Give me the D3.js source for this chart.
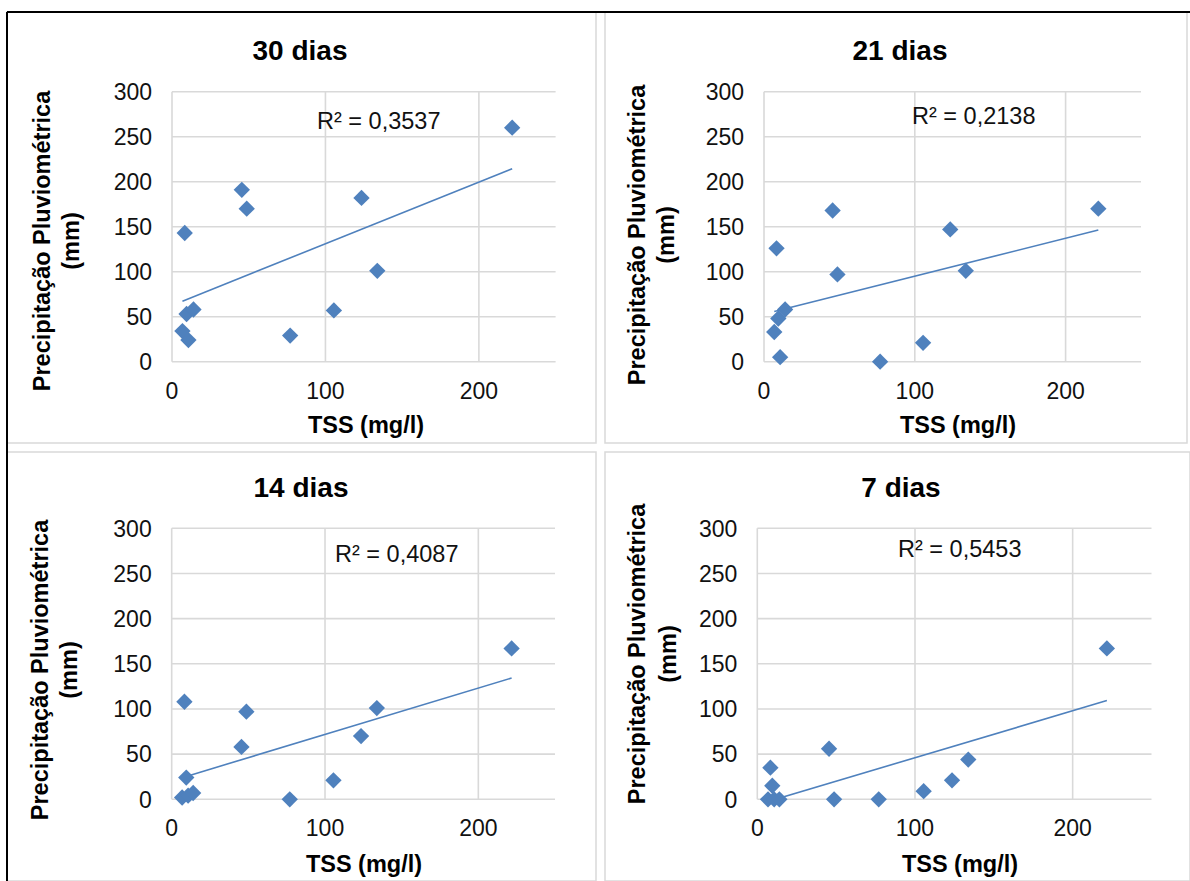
<!DOCTYPE html>
<html>
<head>
<meta charset="utf-8">
<script src="https://cdn.jsdelivr.net/npm/d3@7"></script>
<style>
  html, body { margin: 0; padding: 0; background: #fff; }
  svg { display: block; font-family: "Liberation Sans", Arial, sans-serif; }
</style>
</head>
<body>
<svg></svg>
<script>
// data

var tss = [6.8, 8.3, 9.5, 10.7, 14, 45.5, 48.7, 77, 105.5, 123.5, 133.8, 221.7]

var chuva30 = [34, 143, 53, 24, 58, 191, 170, 29, 57, 182, 101, 260]
var chuva21 = [33, 126, 48, 5, 58, 168, 97, 0, 21, 147, 101, 170]
var chuva14 = [2, 108, 24, 4, 7, 58, 97, 0, 21, 70, 101, 167]
var chuva7 = [0, 35, 15, 0, 0, 56, 0, 0, 9, 21, 44, 167]

var titles = ['30 dias', '21 dias', '14 dias', '7 dias']
var r2Labels = ['R² = 0,3537', 'R² = 0,2138', 'R² = 0,4087', 'R² = 0,5453']
var xTicks = [0, 100, 200]
var yTicks = [0, 50, 100, 150, 200, 250, 300]
var xTitle = 'TSS (mg/l)'
var yTitle = ['Precipitação Pluviométrica', '(mm)']

// -----------------

var w = 1190
var h = 881
var blue = '#4F81BD'
var grid = '#d9d9d9'

var svg = d3.select('svg')
    .attr('width', w)
    .attr('height', h)

var series = [chuva30, chuva21, chuva14, chuva7]

var panels = [
  { box: [7, 12, 596, 443], plot: [172, 555.6, 91.7, 361.7], title: [300, 60], r2: [317, 129], ylab: [42, 71, 241], xlab: [366, 433] },
  { box: [605, 12, 1187, 443], plot: [764, 1141, 91.7, 361.7], title: [900, 60], r2: [912, 124], ylab: [637, 666, 235], xlab: [958, 433] },
  { box: [7, 452, 596, 881], plot: [171.7, 555, 528.3, 799.3], title: [301, 497], r2: [335, 562], ylab: [40, 69, 670], xlab: [364, 872] },
  { box: [605, 452, 1190, 881], plot: [757.3, 1151.5, 528.3, 799.3], title: [901, 497], r2: [898, 557], ylab: [637, 668, 654], xlab: [960, 872] }
]

// least squares fit, like the excel linear trendline
function fit (xs, ys) {
  var mx = d3.mean(xs)
  var my = d3.mean(ys)
  var sxy = d3.sum(xs, function (x, i) { return (x - mx) * (ys[i] - my) })
  var sxx = d3.sum(xs, function (x) { return (x - mx) * (x - mx) })
  var b = sxy / sxx
  return { b: b, a: my - b * mx }
}

panels.forEach(function (p, k) {
  var g = svg.append('g')
  var ys = series[k]

  // panel frame
  g.append('rect')
    .attr('x', p.box[0])
    .attr('y', p.box[1])
    .attr('width', p.box[2] - p.box[0])
    .attr('height', p.box[3] - p.box[1])
    .attr('fill', '#fff')
    .attr('stroke', grid)
    .attr('stroke-width', 1.5)

  var x = d3.scaleLinear().domain([0, 250]).range([p.plot[0], p.plot[1]])
  var y = d3.scaleLinear().domain([0, 300]).range([p.plot[3], p.plot[2]])

  // grid
  g.selectAll('.hg').data(yTicks).enter().append('line')
    .attr('x1', x(0)).attr('x2', x(250))
    .attr('y1', function (d) { return y(d) })
    .attr('y2', function (d) { return y(d) })
    .attr('stroke', grid).attr('stroke-width', 1.6)

  g.selectAll('.vg').data(xTicks).enter().append('line')
    .attr('y1', y(0)).attr('y2', y(300))
    .attr('x1', function (d) { return x(d) })
    .attr('x2', function (d) { return x(d) })
    .attr('stroke', grid).attr('stroke-width', 1.6)

  // tick labels
  g.selectAll('.yt').data(yTicks).enter().append('text')
    .attr('x', x(0) - 20)
    .attr('y', function (d) { return y(d) })
    .attr('dy', '0.36em')
    .attr('text-anchor', 'end')
    .style('font-size', '23px')
    .attr('fill', '#111')
    .text(function (d) { return d })

  g.selectAll('.xt').data(xTicks).enter().append('text')
    .attr('x', function (d) { return x(d) })
    .attr('y', y(0) + 37)
    .attr('text-anchor', 'middle')
    .style('font-size', '23px')
    .attr('fill', '#111')
    .text(function (d) { return d })

  // trendline, clipped to the plot area
  var clipId = 'clip' + k
  svg.append('clipPath').attr('id', clipId)
    .append('rect')
    .attr('x', x(0)).attr('y', y(300))
    .attr('width', x(250) - x(0))
    .attr('height', y(0) - y(300))

  var f = fit(tss, ys)
  var ends = d3.extent(tss)
  g.append('line')
    .attr('clip-path', 'url(#' + clipId + ')')
    .attr('x1', x(ends[0])).attr('y1', y(f.a + f.b * ends[0]))
    .attr('x2', x(ends[1])).attr('y2', y(f.a + f.b * ends[1]))
    .attr('stroke', blue)
    .attr('stroke-width', 1.6)

  // markers
  var diamond = d3.symbol().type(d3.symbolDiamond2).size(170)
  g.selectAll('.pt').data(tss).enter().append('path')
    .attr('d', diamond)
    .attr('transform', function (d, i) {
      return 'translate(' + x(d) + ',' + y(ys[i]) + ')'
    })
    .attr('fill', blue)

  // texts
  g.append('text')
    .attr('x', p.title[0]).attr('y', p.title[1])
    .attr('text-anchor', 'middle')
    .style('font-size', '28px')
    .style('font-weight', 'bold')
    .text(titles[k])

  g.append('text')
    .attr('x', p.r2[0]).attr('y', p.r2[1])
    .style('font-size', '23.5px')
    .attr('fill', '#111')
    .text(r2Labels[k])

  g.append('text')
    .attr('x', p.xlab[0]).attr('y', p.xlab[1])
    .attr('text-anchor', 'middle')
    .style('font-size', '23.5px')
    .style('font-weight', 'bold')
    .text(xTitle)

  yTitle.forEach(function (t, j) {
    g.append('text')
      .attr('transform', 'translate(' + p.ylab[j] + ',' + p.ylab[2] + ') rotate(-90)')
      .attr('dy', '0.36em')
      .attr('text-anchor', 'middle')
      .style('font-size', '23.5px')
      .style('font-weight', 'bold')
      .text(t)
  })
})

// black edge along the top and left
svg.append('line')
  .attr('x1', 7).attr('x2', w).attr('y1', 12).attr('y2', 12)
  .attr('stroke', '#000').attr('stroke-width', 2)
svg.append('line')
  .attr('x1', 7).attr('x2', 7).attr('y1', 12).attr('y2', h)
  .attr('stroke', '#000').attr('stroke-width', 2)
</script>
</body>
</html>
